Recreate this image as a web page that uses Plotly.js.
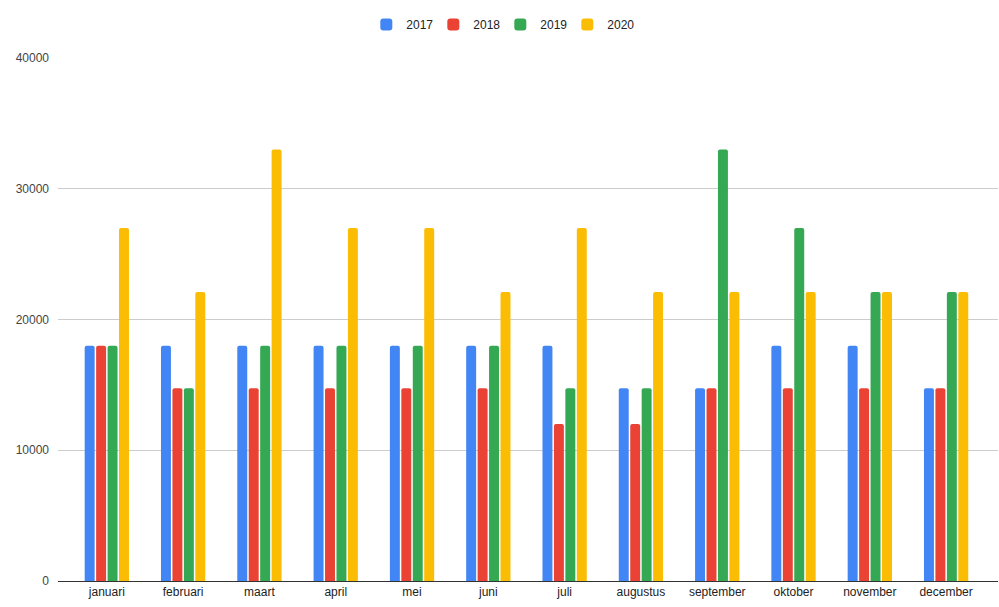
<!DOCTYPE html>
<html><head><meta charset="utf-8">
<script src="https://cdn.plot.ly/plotly-3.0.1.min.js"></script>
<style>html,body{margin:0;padding:0;background:#fff}#chart{width:999px;height:607px}</style>
</head><body><div id="chart"></div>
<script>
const months = ["januari","februari","maart","april","mei","juni","juli","augustus","september","oktober","november","december"];
const seriesNames = ["2017","2018","2019","2020"];
const v2017 = [18000,18000,18000,18000,18000,18000,18000,14750,14750,18000,18000,14750];
const v2018 = [18000,14750,14750,14750,14750,14750,12000,12000,14750,14750,14750,14750];
const v2019 = [18000,14750,18000,18000,18000,18000,14750,14750,33000,27000,22100,22100];
const v2020 = [27000,22100,33000,27000,27000,22100,27000,22100,22100,22100,22100,22100];
const colors = ["#4285F4","#EA4335","#34A853","#FBBC04"];
const yTicks = [0,10000,20000,30000,40000];

const allVals = [v2017,v2018,v2019,v2020];
const traces = allVals.map((vals,i)=>({
  type:'bar', x:months, y:vals, name:seriesNames[i],
  marker:{color:colors[i], cornerradius:2, line:{width:0}},
  hoverinfo:'x+y+name'
}));

const layout = {
  width:999, height:607,
  margin:{l:58, r:1, t:58, b:26, pad:0},
  paper_bgcolor:'#fff', plot_bgcolor:'#fff',
  font:{family:'Arial, "Liberation Sans", sans-serif', size:12, color:'#222'},
  barmode:'group', bargap:0.4, bargroupgap:0.13,
  showlegend:true,
  legend:{orientation:'h', x:0.328, xanchor:'left', y:1.064, yanchor:'middle',
          entrywidth:22, entrywidthmode:'pixels',
          font:{size:12, color:'#222'}, itemwidth:30, itemclick:false},
  xaxis:{type:'category', range:[-0.64,11.68], showgrid:false, zeroline:false,
         showline:true, linecolor:'#333', linewidth:1, ticks:'', tickfont:{size:12,color:'#222'}, fixedrange:true},
  yaxis:{range:[0,40000], tickvals:yTicks, ticktext:yTicks.map(String), showgrid:true, gridcolor:'#cccccc', gridwidth:1,
         zeroline:false, showline:false, ticks:'', ticklabelstandoff:8, tickfont:{size:12,color:'#444'}, fixedrange:true}
};
Plotly.newPlot('chart', traces, layout, {displayModeBar:false, staticPlot:true});
</script></body></html>
